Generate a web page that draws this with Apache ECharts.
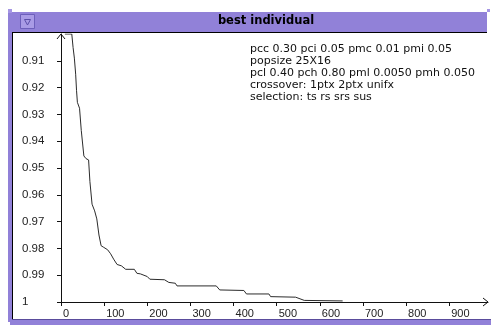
<!DOCTYPE html>
<html>
<head>
<meta charset="utf-8">
<script src="https://cdn.jsdelivr.net/npm/echarts@6/dist/echarts.min.js"></script>
<style>
  html, body { margin: 0; padding: 0; background: #ffffff; }
  #chart { width: 491px; height: 325px; }
</style>
</head>
<body>
<div id="chart"></div>
<script>
// Best-individual fitness per generation (axis runs downward: 0.90 at top, 1 at bottom)
const generations = [9, 25, 28, 31, 34, 36, 38, 43, 47, 53, 58, 64, 67, 72, 78, 83, 88, 93, 98, 108, 115, 122, 130, 140, 150, 170, 176, 184, 200, 206, 240, 250, 265, 269, 360, 368, 424, 430, 482, 486, 544, 564, 653];
const fitness = [0.900, 0.900, 0.905, 0.909, 0.915, 0.921, 0.9255, 0.9277, 0.936, 0.9455, 0.9465, 0.947, 0.955, 0.9635, 0.966, 0.969, 0.975, 0.979, 0.9795, 0.9805, 0.982, 0.984, 0.986, 0.9865, 0.9878, 0.9878, 0.9893, 0.9895, 0.9905, 0.9915, 0.9917, 0.9927, 0.993, 0.994, 0.994, 0.9955, 0.9957, 0.997, 0.997, 0.998, 0.9982, 0.9994, 0.9996];

const xTicks = [0, 100, 200, 300, 400, 500, 600, 700, 800, 900];
const yTicks = [0.91, 0.92, 0.93, 0.94, 0.95, 0.96, 0.97, 0.98, 0.99, 1];

const titleText = 'best individual';
const noteLines = [
  'pcc 0.30 pci 0.05 pmc 0.01 pmi 0.05',
  'popsize 25X16',
  'pcl 0.40 pch 0.80 pml 0.0050 pmh 0.050',
  'crossover: 1ptx 2ptx unifx',
  'selection: ts rs srs sus'
];

const X_MAX = 990;
const Y_MIN = 0.9, Y_MAX = 1;

const PURPLE = '#9181d8';
const FONT = '"Liberation Sans", Arial, sans-serif';
const WIDE_FONT = '"DejaVu Sans", Verdana, sans-serif';

const chart = echarts.init(document.getElementById('chart'), null, { renderer: 'canvas' });

const seriesData = generations.map((g, i) => [g, fitness[i]]);

// window chrome: title bar, side/bottom strips, close box
const chrome = [
  { type: 'rect', shape: { x: 8, y: 10, width: 4, height: 312 }, style: { fill: PURPLE }, silent: true },
  { type: 'rect', shape: { x: 8, y: 12, width: 479, height: 20 }, style: { fill: PURPLE }, silent: true },
  { type: 'rect', shape: { x: 8, y: 9, width: 4, height: 4 }, style: { fill: '#a596e4' }, silent: true },
  { type: 'rect', shape: { x: 487, y: 9, width: 3, height: 3 }, style: { fill: '#a596e4' }, silent: true },
  { type: 'line', shape: { x1: 12, y1: 32.5, x2: 487, y2: 32.5 }, style: { stroke: '#000', lineWidth: 1 }, silent: true },
  { type: 'line', shape: { x1: 12.5, y1: 32, x2: 12.5, y2: 319 }, style: { stroke: '#000', lineWidth: 1 }, silent: true },
  { type: 'rect', shape: { x: 10, y: 320, width: 481, height: 5 }, style: { fill: PURPLE }, silent: true },
  { type: 'line', shape: { x1: 12, y1: 319.5, x2: 491, y2: 319.5 }, style: { stroke: '#5a4c9c', lineWidth: 1 }, silent: true },
  { type: 'rect', shape: { x: 20.5, y: 14.5, width: 14, height: 14 }, style: { fill: '#a99be6', stroke: '#6d5fbb', lineWidth: 1 }, silent: true },
  { type: 'polygon', shape: { points: [[24.5, 19.5], [30.5, 19.5], [27.5, 25]] }, style: { fill: 'none', stroke: '#5b4ea8', lineWidth: 1 }, silent: true },
  { type: 'text', x: 266, y: 21, style: { text: titleText, fill: '#000', font: 'bold 11.5px ' + WIDE_FONT, textAlign: 'center', textVerticalAlign: 'middle' }, silent: true },
  { type: 'text', x: 250, y: 43.5, style: { text: noteLines.join('\n'), fill: '#111', font: '11px ' + WIDE_FONT, lineHeight: 12, textAlign: 'left', textVerticalAlign: 'top' }, silent: true }
];

chart.setOption({
  animation: false,
  backgroundColor: '#ffffff',
  grid: { left: 61, right: 3, top: 34, bottom: 23, containLabel: false },
  xAxis: {
    type: 'value',
    min: 0,
    max: X_MAX,
    interval: 100,
    axisLine: { show: true, onZero: false, lineStyle: { color: '#111', width: 1 } },
    axisTick: { show: true, inside: false, length: 4, customValues: xTicks, lineStyle: { color: '#111' } },
    axisLabel: {
      customValues: xTicks,
      align: 'left',
      margin: 6,
      padding: [0, 0, 0, 2],
      color: '#222',
      fontFamily: FONT,
      fontSize: 11
    },
    splitLine: { show: false }
  },
  yAxis: {
    type: 'value',
    inverse: true,
    min: Y_MIN,
    max: Y_MAX,
    interval: 0.01,
    axisLine: { show: true, onZero: false, lineStyle: { color: '#111', width: 1 } },
    axisTick: { show: true, inside: false, length: 4, customValues: yTicks, lineStyle: { color: '#111' } },
    axisLabel: {
      customValues: yTicks,
      align: 'left',
      margin: 39,
      padding: [0, 0, 11, 0],
      color: '#222',
      fontFamily: FONT,
      fontSize: 11.5,
      formatter: v => (Math.abs(v - 1) < 1e-9 ? '1' : v.toFixed(2))
    },
    splitLine: { show: false }
  },
  series: [{
    type: 'line',
    data: seriesData,
    showSymbol: false,
    symbol: 'none',
    clip: true,
    lineStyle: { color: '#2b2b2b', width: 1 }
  }],
  graphic: chrome
});

// open chevron arrow heads at the far ends of both axes
const xEnd = chart.convertToPixel({ gridIndex: 0 }, [X_MAX, Y_MAX]);
const yEnd = chart.convertToPixel({ gridIndex: 0 }, [0, Y_MIN]);
const arrows = [
  { type: 'polyline', shape: { points: [[xEnd[0] - 5, xEnd[1] - 4], [xEnd[0], xEnd[1]], [xEnd[0] - 5, xEnd[1] + 4]] }, style: { stroke: '#111', fill: 'none', lineWidth: 1 }, silent: true },
  { type: 'polyline', shape: { points: [[yEnd[0] - 4, yEnd[1] + 5], [yEnd[0], yEnd[1]], [yEnd[0] + 4, yEnd[1] + 5]] }, style: { stroke: '#111', fill: 'none', lineWidth: 1 }, silent: true }
];
chart.setOption({ graphic: chrome.concat(arrows) }, { replaceMerge: ['graphic'] });
</script>
</body>
</html>
